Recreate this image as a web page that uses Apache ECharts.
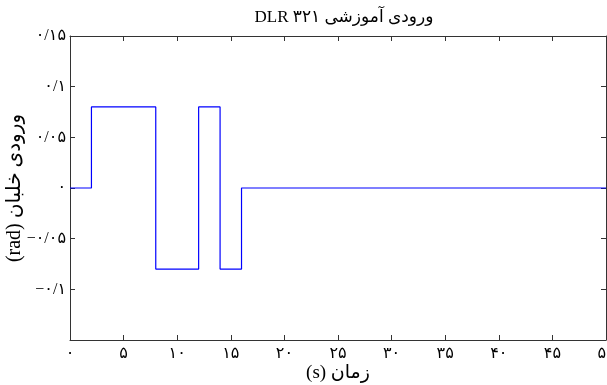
<!DOCTYPE html>
<html>
<head>
<meta charset="utf-8">
<script src="https://cdn.jsdelivr.net/npm/echarts@6/dist/echarts.min.js"></script>
<style>
html,body{margin:0;padding:0;background:#fff;}
#chart{width:607px;height:385px;}
</style>
</head>
<body>
<div id="chart"></div>
<script>
// Breakpoints of the 3-2-1-1 pilot input (time in s, value in rad); each value holds until the next time
const times = [0, 2, 8, 12, 14, 16, 50];
const values = [0, 0.08, -0.08, 0.08, -0.08, 0, 0];

// Tick labels (Persian digits)
const xTickValues = [0, 5, 10, 15, 20, 25, 30, 35, 40, 45, 50];
const xTickLabels = ['۰', '۵', '۱۰', '۱۵', '۲۰', '۲۵', '۳۰', '۳۵', '۴۰', '۴۵', '۵۰'];
const yTickValues = [-0.15, -0.1, -0.05, 0, 0.05, 0.1, 0.15];
const yTickLabels = ['', '−۰/۱', '−۰/۰۵', '۰', '۰/۰۵', '۰/۱', '۰/۱۵'];

const titleText = 'DLR ۳۲۱ ورودی آموزشی';
const xTitle = '(s) زمان';
const yTitle = '(rad) ورودی خلبان';

const FONT = '"Liberation Serif", "DejaVu Serif", "DejaVu Sans", serif';
const AX = '#333333';

function xLab(v) {
  const i = xTickValues.findIndex(t => Math.abs(t - v) < 1e-9);
  return i >= 0 ? xTickLabels[i] : '';
}
function yLab(v) {
  const i = yTickValues.findIndex(t => Math.abs(t - v) < 1e-9);
  return i >= 0 ? yTickLabels[i] : '';
}

const chart = echarts.init(document.getElementById('chart'), null, {renderer: 'canvas'});
const tickStyle = {show: true, inside: true, length: 5, lineStyle: {color: AX, width: 1}};
const lineStyleAx = {show: true, onZero: false, lineStyle: {color: AX, width: 1}};

chart.setOption({
  animation: false,
  backgroundColor: '#ffffff',
  title: {
    text: titleText,
    left: 339,
    top: 4,
    textAlign: 'center',
    textVerticalAlign: 'top',
    textStyle: {fontFamily: FONT, fontSize: 17, fontWeight: 'normal', color: '#000'}
  },
  grid: {left: 70, right: 1, top: 36, bottom: 45, containLabel: false, outerBoundsMode: 'none'},
  xAxis: [{
    type: 'value', min: 0, max: 50, interval: 5, position: 'bottom',
    axisLine: lineStyleAx, axisTick: tickStyle, splitLine: {show: false},
    axisLabel: {formatter: xLab, margin: 6, fontFamily: FONT, fontSize: 16, color: '#000'},
    name: xTitle, nameLocation: 'middle', nameGap: 24, nameMoveOverlap: false,
    nameTextStyle: {fontFamily: FONT, fontSize: 19, color: '#000'}
  }, {
    type: 'value', min: 0, max: 50, interval: 5, position: 'top',
    axisLine: lineStyleAx, axisTick: tickStyle, splitLine: {show: false},
    axisLabel: {show: false}
  }],
  yAxis: [{
    type: 'value', min: -0.15, max: 0.15, interval: 0.05, position: 'left',
    axisLine: lineStyleAx, axisTick: tickStyle, splitLine: {show: false},
    axisLabel: {formatter: yLab, margin: 4, fontFamily: FONT, fontSize: 16, color: '#000'},
    name: yTitle, nameLocation: 'middle', nameGap: 45, nameRotate: 90, nameMoveOverlap: false,
    nameTextStyle: {fontFamily: FONT, fontSize: 20, color: '#000'}
  }, {
    type: 'value', min: -0.15, max: 0.15, interval: 0.05, position: 'right',
    axisLine: lineStyleAx, axisTick: tickStyle, splitLine: {show: false},
    axisLabel: {show: false}
  }],
  series: [{
    type: 'line',
    xAxisIndex: 0, yAxisIndex: 0,
    step: 'end',
    showSymbol: false,
    symbol: 'none',
    lineStyle: {color: '#0000ff', width: 1.2},
    data: times.map((t, i) => [t, values[i]])
  }]
});
</script>
</body>
</html>
